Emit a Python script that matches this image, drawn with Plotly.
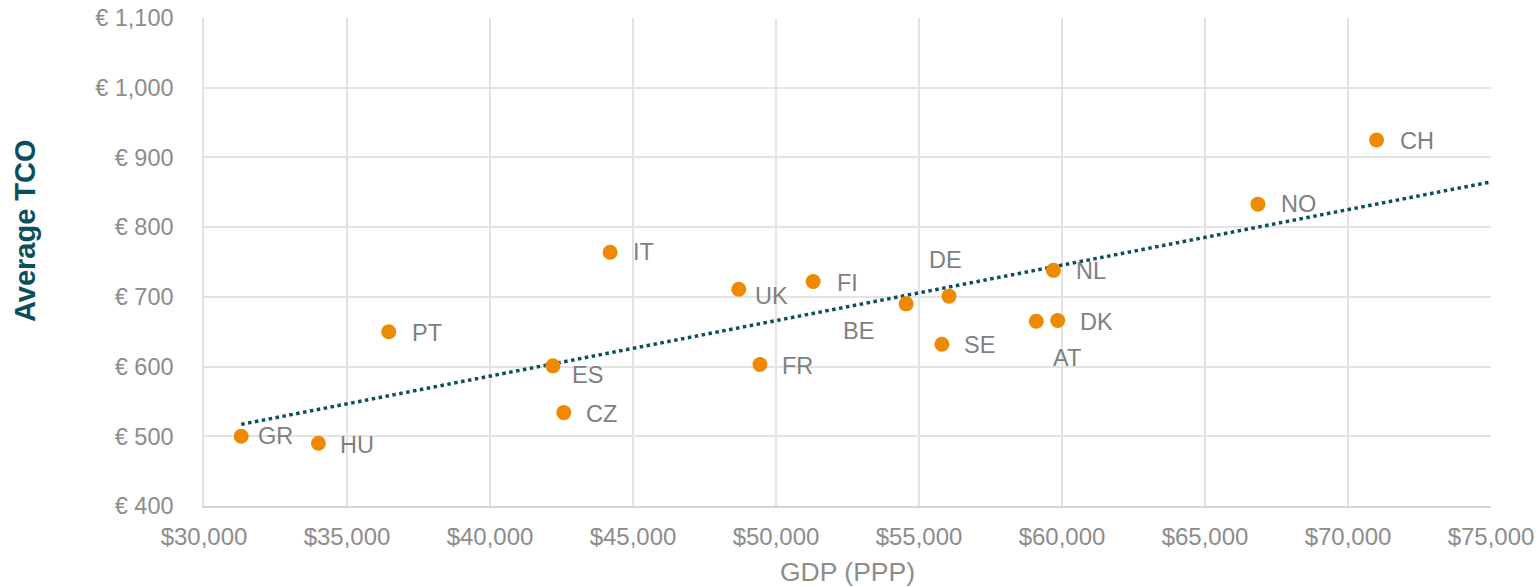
import numpy as np
import plotly.graph_objects as go

# ---- data ----
countries = ["GR", "HU", "PT", "ES", "CZ", "IT", "UK", "FR", "FI",
             "BE", "DE", "SE", "AT", "DK", "NL", "NO", "CH"]
gdp_ppp = [31300, 34000, 36460, 42200, 42580, 44200, 48700, 49440, 51300,
           54550, 56050, 55800, 59100, 59850, 59700, 66850, 71000]
avg_tco = [500, 490, 650, 601, 534, 764, 711, 603, 722,
           690, 701, 632, 665, 666, 738, 833, 925]
x_ticks = [30000, 35000, 40000, 45000, 50000, 55000, 60000, 65000, 70000, 75000]
y_ticks = [400, 500, 600, 700, 800, 900, 1000, 1100]
x_tick_labels = ["${:,}".format(v) for v in x_ticks]
y_tick_labels = ["€ {:,}".format(v) for v in y_ticks]

# label placement offsets in pixels (dx, dy) relative to marker centre
label_offsets = {
    "GR": (34, 0), "HU": (39, 2), "PT": (38, 1), "ES": (35, 9), "CZ": (38, 1),
    "IT": (33, 0), "UK": (33, 7), "FR": (38, 2), "FI": (34, 1), "BE": (-48, 27),
    "DE": (-4, -36), "SE": (38, 1), "AT": (31, 37), "DK": (39, 1), "NL": (38, 1),
    "NO": (41, 0), "CH": (40, 1),
}

ORANGE = "#EE8A00"
TEAL = "#0B4F5C"
GREY = "#8C8C8C"
LABEL_GREY = "#7F7F7F"
GRID = "#E3E3E3"
FONT = "Liberation Sans, Arial, sans-serif"

# linear trendline (least squares) from smallest GDP to axis maximum
slope, intercept = np.polyfit(gdp_ppp, avg_tco, 1)
trend_x = np.array([min(gdp_ppp), x_ticks[-1]])
trend_y = slope * trend_x + intercept

fig = go.Figure()
fig.add_trace(go.Scatter(
    x=trend_x, y=trend_y, mode="lines",
    line=dict(color=TEAL, width=3.5, dash="dot"),
    hoverinfo="skip", showlegend=False, cliponaxis=False,
))
fig.add_trace(go.Scatter(
    x=gdp_ppp, y=avg_tco, mode="markers", text=countries,
    marker=dict(color=ORANGE, size=15, line=dict(width=0)),
    showlegend=False,
))

for c, xv, yv in zip(countries, gdp_ppp, avg_tco):
    dx, dy = label_offsets[c]
    fig.add_annotation(
        x=xv, y=yv, text=c, showarrow=False,
        xanchor="center", yanchor="middle",
        xshift=dx, yshift=-dy,
        font=dict(family=FONT, size=23.5, color=LABEL_GREY),
    )

# axis titles
fig.add_annotation(
    xref="paper", yref="paper", x=-0.139, y=0.5635, text="<b>Average TCO</b>",
    textangle=-90, showarrow=False, xanchor="center", yanchor="middle",
    font=dict(family=FONT, size=29, color=TEAL),
)
fig.add_annotation(
    xref="paper", yref="paper", x=0.5, y=-0.135, text="GDP (PPP)",
    showarrow=False, xanchor="center", yanchor="middle",
    font=dict(family=FONT, size=26.5, color=GREY),
)

fig.update_layout(
    width=1540, height=587,
    margin=dict(l=204, r=49, t=18, b=81),
    paper_bgcolor="white", plot_bgcolor="white",
    font=dict(family=FONT, color=GREY),
)
fig.update_xaxes(
    range=[x_ticks[0], x_ticks[-1]], tickmode="array",
    tickvals=x_ticks, ticktext=x_tick_labels,
    showgrid=True, gridcolor=GRID, gridwidth=1.5,
    zeroline=False, showline=True, linecolor="#D5D5D5", linewidth=2,
    ticks="", ticklabelstandoff=8, automargin=False,
    tickfont=dict(family=FONT, size=24, color=GREY),
)
fig.update_yaxes(
    range=[y_ticks[0], y_ticks[-1]], tickmode="array",
    tickvals=y_ticks, ticktext=y_tick_labels,
    showgrid=True, gridcolor=GRID, gridwidth=1.5,
    zeroline=False, showline=True, linecolor="#E3E3E3", linewidth=1.5,
    ticks="", ticklabelstandoff=24, automargin=False,
    tickfont=dict(family=FONT, size=23.5, color=GREY),
)

fig.write_html("out.html", config={"displayModeBar": False},
               post_script="document.body.style.margin='0';")
